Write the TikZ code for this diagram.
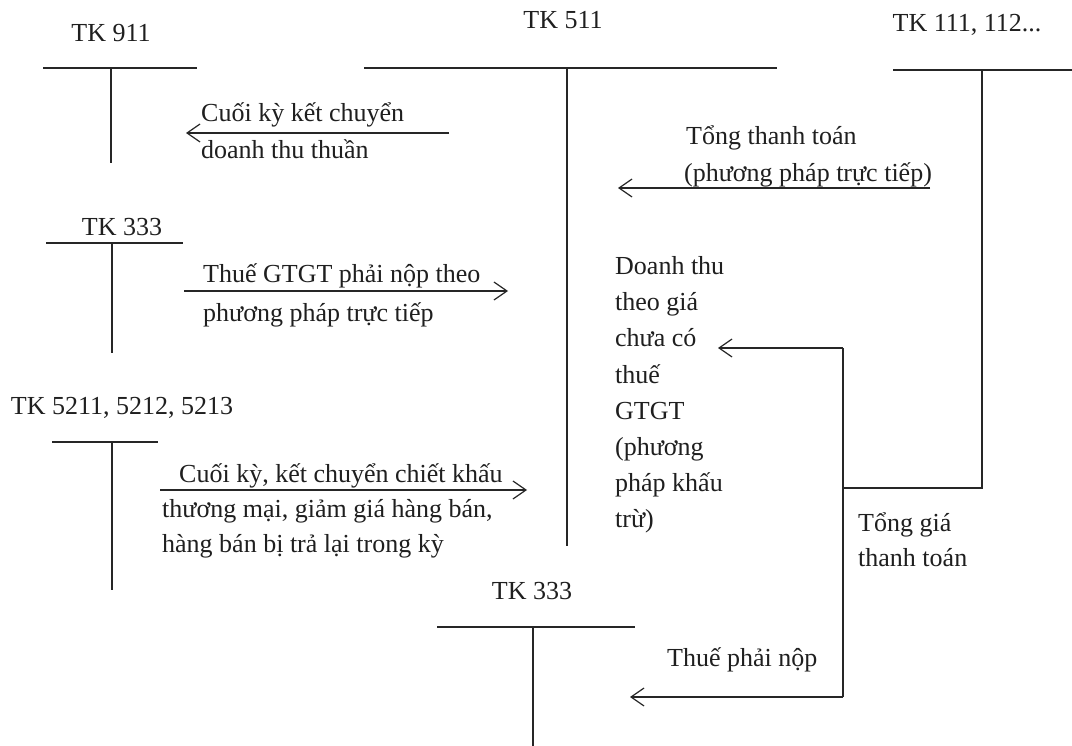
\documentclass[tikz,border=0pt]{standalone}
\usepackage{fontspec}
\setmainfont{Liberation Serif}
\usetikzlibrary{arrows.meta}
\begin{document}
\begin{tikzpicture}[x=1pt,y=-1pt,
  txt/.style={font=\fontsize{26}{36}\selectfont, inner sep=0pt, text=black!88},
  lbl/.style={txt, anchor=base west},
  tk/.style={txt, anchor=base},
  ln/.style={line width=1.3pt, draw=black!85},
  arr/.style={ln, -{Straight Barb[length=13pt,width=18pt,line width=1.2pt]}}]
\useasboundingbox[fill=white] (0,0) rectangle (1072,746);

% ---- TK 911
\node[tk] (tk911) at (111,42) {TK 911};
\coordinate (a1l) at (43,68); \coordinate (a1r) at (197,68);
\coordinate (a1t) at (111,68); \coordinate (a1b) at (111,163);
\draw[ln] (a1l) -- (a1r); \draw[ln] (a1t) -- (a1b);

% ---- TK 511
\node[tk] (tk511) at (563,29) {TK 511};
\coordinate (a2l) at (364,68); \coordinate (a2r) at (777,68);
\coordinate (a2t) at (567,68); \coordinate (a2b) at (567,546);
\draw[ln] (a2l) -- (a2r); \draw[ln] (a2t) -- (a2b);

% ---- TK 111, 112...
\node[tk] (tk111) at (967,32) {TK 111, 112...};
\coordinate (a3l) at (893,70); \coordinate (a3r) at (1072,70);
\coordinate (a3t) at (982,70); \coordinate (a3b) at (982,488);
\draw[ln] (a3l) -- (a3r);

% ---- TK 333 (upper)
\node[tk] (tk333a) at (122,236) {TK 333};
\coordinate (a4l) at (46,243); \coordinate (a4r) at (183,243);
\coordinate (a4t) at (112,243); \coordinate (a4b) at (112,353);
\draw[ln] (a4l) -- (a4r); \draw[ln] (a4t) -- (a4b);

% ---- TK 5211, 5212, 5213
\node[tk] (tk521) at (122,414) {TK 5211, 5212, 5213};
\coordinate (a5l) at (52,442); \coordinate (a5r) at (158,442);
\coordinate (a5t) at (112,442); \coordinate (a5b) at (112,590);
\draw[ln] (a5l) -- (a5r); \draw[ln] (a5t) -- (a5b);

% ---- TK 333 (lower)
\node[tk] (tk333b) at (532,599) {TK 333};
\coordinate (a6l) at (437,627); \coordinate (a6r) at (635,627);
\coordinate (a6t) at (533,627); \coordinate (a6b) at (533,746);
\draw[ln] (a6l) -- (a6r); \draw[ln] (a6t) -- (a6b);

% ---- arrow: Cuoi ky ket chuyen doanh thu thuan
\coordinate (e1s) at (449,133); \coordinate (e1e) at (186,133);
\draw[arr] (e1s) -- (e1e);
\node[lbl] (t1a) at (201,122) {Cuối kỳ kết chuyển};
\node[lbl] (t1b) at (201,159) {doanh thu thuần};

% ---- arrow: Tong thanh toan (phuong phap truc tiep)
\coordinate (e2s) at (930,188); \coordinate (e2e) at (618,188);
\draw[arr] (e2s) -- (e2e);
\node[lbl] (t2a) at (686,145) {Tổng thanh toán};
\node[lbl] (t2b) at (684,182) {(phương pháp trực tiếp)};

% ---- arrow: Thue GTGT phai nop
\coordinate (e3s) at (184,291); \coordinate (e3e) at (508,291);
\draw[arr] (e3s) -- (e3e);
\node[lbl] (t3a) at (203,283) {Thuế GTGT phải nộp theo};
\node[lbl] (t3b) at (203,322) {phương pháp trực tiếp};

% ---- arrow: Cuoi ky, ket chuyen chiet khau
\coordinate (e4s) at (160,490); \coordinate (e4e) at (527,490);
\draw[arr] (e4s) -- (e4e);
\node[lbl] (t4a) at (179,482) {Cuối kỳ, kết chuyển chiết khấu};
\node[lbl] (t4b) at (162,517) {thương mại, giảm giá hàng bán,};
\node[lbl] (t4c) at (162,552) {hàng bán bị trả lại trong kỳ};

% ---- right loop: Tong gia thanh toan
\coordinate (c3) at (843,488);
\coordinate (c4) at (843,348); \coordinate (c5) at (843,697);
\coordinate (c6) at (718,348); \coordinate (c7) at (630,697);
\draw[ln] (a3t) -- (a3b) -- (c3);
\draw[ln] (c4) -- (c5);
\draw[arr] (c4) -- (c6);
\draw[arr] (c5) -- (c7);

\node[lbl] (d1) at (615,275) {Doanh thu};
\node[lbl] (d2) at (615,311) {theo giá};
\node[lbl] (d3) at (615,347) {chưa có};
\node[lbl] (d4) at (615,383) {thuế};
\node[lbl] (d5) at (615,419) {GTGT};
\node[lbl] (d6) at (615,455) {(phương};
\node[lbl] (d7) at (615,491) {pháp khấu};
\node[lbl] (d8) at (615,527) {trừ)};

\node[lbl] (g1) at (858,531) {Tổng giá};
\node[lbl] (g2) at (858,566) {thanh toán};

\node[lbl] (p1) at (667,666) {Thuế phải nộp};
\end{tikzpicture}
\end{document}
